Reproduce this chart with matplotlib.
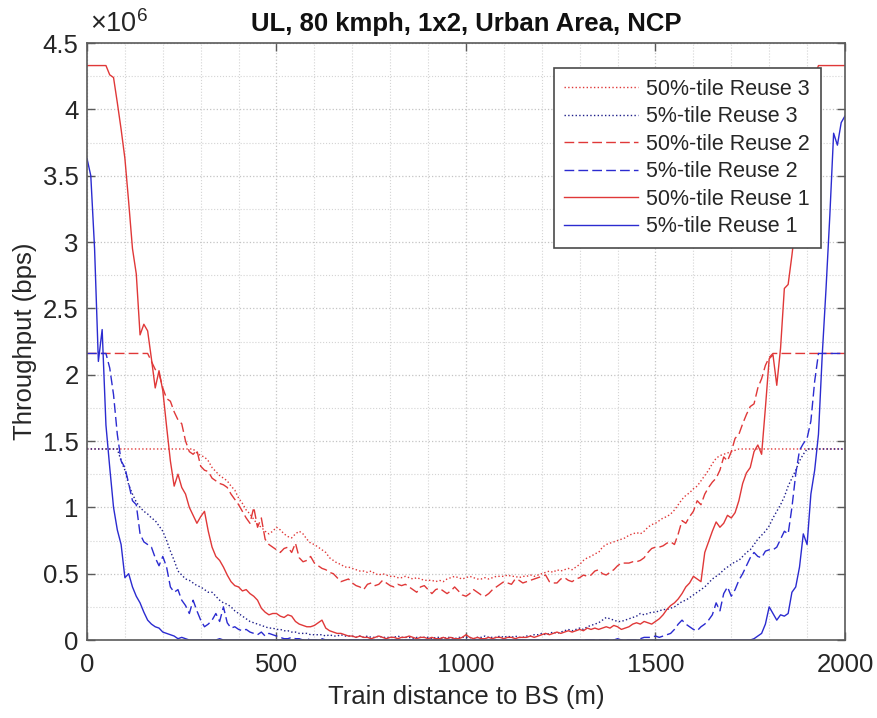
import numpy as np
import matplotlib
matplotlib.use("Agg")
import matplotlib.pyplot as plt
from matplotlib.ticker import MultipleLocator, FuncFormatter

plt.rcParams['font.family'] = ['Liberation Sans', 'DejaVu Sans']
plt.rcParams['mathtext.fontset'] = 'custom'
plt.rcParams['mathtext.rm'] = 'Liberation Sans'
plt.rcParams['mathtext.it'] = 'Liberation Sans:italic'

# Train distance to BS (m), 10 m sampling
distance = np.arange(0, 2001, 10)

# Throughput values in units of 10^6 bps
p50_reuse3 = [
    1.44, 1.44, 1.44, 1.44, 1.44, 1.44, 1.44, 1.44, 1.44, 1.44,
    1.44, 1.44, 1.44, 1.44, 1.44, 1.44, 1.44, 1.44, 1.44, 1.44,
    1.44, 1.44, 1.44, 1.44, 1.44, 1.44, 1.44, 1.44, 1.44, 1.41,
    1.39, 1.38, 1.35, 1.30, 1.27, 1.24, 1.22, 1.20, 1.16, 1.13,
    1.07, 1.03, 0.98, 0.95, 0.91, 0.87, 0.85, 0.82, 0.80, 0.82,
    0.85, 0.83, 0.80, 0.78, 0.77, 0.80, 0.82, 0.80, 0.76, 0.73,
    0.72, 0.70, 0.68, 0.66, 0.62, 0.60, 0.58, 0.57, 0.55, 0.55,
    0.54, 0.53, 0.52, 0.52, 0.51, 0.52, 0.50, 0.49, 0.50, 0.49,
    0.48, 0.48, 0.47, 0.47, 0.48, 0.47, 0.46, 0.47, 0.46, 0.45,
    0.45, 0.45, 0.44, 0.45, 0.44, 0.46, 0.47, 0.48, 0.47, 0.46,
    0.47, 0.48, 0.47, 0.46, 0.46, 0.47, 0.46, 0.47, 0.48, 0.48,
    0.48, 0.49, 0.48, 0.48, 0.47, 0.48, 0.48, 0.49, 0.48, 0.49,
    0.50, 0.51, 0.52, 0.51, 0.53, 0.52, 0.53, 0.54, 0.53, 0.55,
    0.57, 0.60, 0.62, 0.63, 0.65, 0.66, 0.70, 0.72, 0.73, 0.74,
    0.75, 0.76, 0.77, 0.79, 0.80, 0.81, 0.80, 0.82, 0.85, 0.87,
    0.88, 0.90, 0.92, 0.93, 0.95, 0.98, 1.02, 1.06, 1.09, 1.11,
    1.14, 1.16, 1.20, 1.24, 1.28, 1.33, 1.37, 1.39, 1.40, 1.41,
    1.42, 1.43, 1.44, 1.44, 1.44, 1.44, 1.44, 1.44, 1.44, 1.44,
    1.44, 1.44, 1.44, 1.44, 1.44, 1.44, 1.44, 1.44, 1.44, 1.44,
    1.44, 1.44, 1.44, 1.44, 1.44, 1.44, 1.44, 1.44, 1.44, 1.44,
    1.44,
]

p5_reuse3 = [
    1.44, 1.44, 1.44, 1.44, 1.44, 1.44, 1.44, 1.44, 1.44, 1.35,
    1.28, 1.17, 1.10, 1.04, 1.00, 0.97, 0.95, 0.92, 0.90, 0.86,
    0.82, 0.75, 0.67, 0.60, 0.52, 0.49, 0.46, 0.45, 0.43, 0.41,
    0.40, 0.38, 0.36, 0.36, 0.33, 0.30, 0.28, 0.27, 0.25, 0.22,
    0.20, 0.18, 0.16, 0.14, 0.13, 0.12, 0.11, 0.10, 0.09, 0.09,
    0.08, 0.08, 0.07, 0.07, 0.06, 0.06, 0.05, 0.05, 0.05, 0.04,
    0.04, 0.04, 0.04, 0.03, 0.04, 0.03, 0.03, 0.04, 0.03, 0.03,
    0.03, 0.02, 0.03, 0.02, 0.03, 0.02, 0.02, 0.03, 0.02, 0.02,
    0.02, 0.02, 0.03, 0.02, 0.02, 0.02, 0.01, 0.02, 0.02, 0.02,
    0.02, 0.01, 0.02, 0.02, 0.01, 0.02, 0.02, 0.01, 0.02, 0.02,
    0.02, 0.02, 0.01, 0.02, 0.02, 0.03, 0.02, 0.02, 0.02, 0.03,
    0.02, 0.03, 0.02, 0.03, 0.02, 0.02, 0.03, 0.03, 0.04, 0.04,
    0.05, 0.04, 0.05, 0.06, 0.05, 0.06, 0.07, 0.08, 0.07, 0.08,
    0.09, 0.08, 0.10, 0.11, 0.12, 0.13, 0.15, 0.17, 0.16, 0.15,
    0.14, 0.14, 0.15, 0.16, 0.17, 0.18, 0.20, 0.19, 0.20, 0.21,
    0.21, 0.22, 0.23, 0.23, 0.24, 0.25, 0.27, 0.29, 0.30, 0.32,
    0.34, 0.36, 0.38, 0.40, 0.43, 0.46, 0.48, 0.50, 0.53, 0.55,
    0.57, 0.59, 0.60, 0.63, 0.66, 0.68, 0.72, 0.76, 0.79, 0.82,
    0.86, 0.92, 0.97, 1.02, 1.08, 1.16, 1.22, 1.28, 1.35, 1.40,
    1.44, 1.44, 1.44, 1.44, 1.44, 1.44, 1.44, 1.44, 1.44, 1.44,
    1.44,
]

p50_reuse2 = [
    2.16, 2.16, 2.16, 2.16, 2.16, 2.16, 2.16, 2.16, 2.16, 2.16,
    2.16, 2.16, 2.16, 2.16, 2.16, 2.16, 2.16, 2.10, 2.04, 2.01,
    1.90, 1.82, 1.80, 1.72, 1.66, 1.63, 1.50, 1.42, 1.40, 1.43,
    1.31, 1.28, 1.27, 1.22, 1.20, 1.18, 1.17, 1.15, 1.10, 1.06,
    1.02, 0.97, 0.92, 0.88, 1.00, 0.85, 0.92, 0.76, 0.72, 0.70,
    0.68, 0.66, 0.69, 0.70, 0.66, 0.73, 0.62, 0.59, 0.60, 0.63,
    0.58, 0.56, 0.54, 0.53, 0.51, 0.50, 0.47, 0.44, 0.45, 0.46,
    0.43, 0.41, 0.40, 0.38, 0.42, 0.43, 0.41, 0.42, 0.45, 0.43,
    0.41, 0.40, 0.42, 0.41, 0.42, 0.40, 0.38, 0.36, 0.40, 0.41,
    0.38, 0.35, 0.38, 0.39, 0.37, 0.35, 0.37, 0.40, 0.37, 0.34,
    0.33, 0.35, 0.38, 0.36, 0.34, 0.33, 0.35, 0.38, 0.40, 0.42,
    0.44, 0.43, 0.42, 0.46, 0.45, 0.43, 0.44, 0.45, 0.46, 0.47,
    0.48, 0.49, 0.44, 0.43, 0.43, 0.46, 0.47, 0.45, 0.44, 0.46,
    0.47, 0.49, 0.48, 0.49, 0.52, 0.53, 0.50, 0.49, 0.51, 0.53,
    0.56, 0.58, 0.58, 0.58, 0.59, 0.59, 0.60, 0.62, 0.66, 0.69,
    0.70, 0.70, 0.71, 0.73, 0.74, 0.72, 0.80, 0.90, 0.88, 0.93,
    0.97, 1.05, 1.02, 1.10, 1.15, 1.19, 1.22, 1.28, 1.38, 1.35,
    1.42, 1.52, 1.55, 1.63, 1.70, 1.76, 1.78, 1.90, 1.97, 2.07,
    2.13, 2.16, 2.16, 2.16, 2.16, 2.16, 2.16, 2.16, 2.16, 2.16,
    2.16, 2.16, 2.16, 2.16, 2.16, 2.16, 2.16, 2.16, 2.16, 2.16,
    2.16,
]

p5_reuse2 = [
    2.16, 2.16, 2.16, 2.16, 2.16, 2.16, 2.05, 1.85, 1.55, 1.35,
    1.30, 1.18, 1.05, 1.02, 0.80, 0.74, 0.72, 0.70, 0.62, 0.56,
    0.63, 0.55, 0.40, 0.36, 0.38, 0.30, 0.26, 0.20, 0.30, 0.22,
    0.15, 0.10, 0.12, 0.15, 0.20, 0.14, 0.25, 0.13, 0.09, 0.10,
    0.08, 0.07, 0.08, 0.06, 0.05, 0.04, 0.06, 0.03, 0.05, 0.04,
    0.03, 0.02, 0.01, 0.01, 0.02, 0.01, 0.01, 0.00, 0.01, 0.00,
    0.00, 0.00, 0.01, 0.00, 0.00, 0.00, 0.00, 0.00, 0.00, 0.00,
    0.00, 0.00, 0.00, 0.00, 0.00, 0.00, 0.00, 0.00, 0.00, 0.00,
    0.00, 0.00, 0.00, 0.00, 0.00, 0.00, 0.00, 0.00, 0.00, 0.00,
    0.00, 0.00, 0.00, 0.00, 0.00, 0.00, 0.00, 0.00, 0.00, 0.00,
    0.00, 0.00, 0.00, 0.00, 0.00, 0.00, 0.00, 0.00, 0.00, 0.00,
    0.00, 0.00, 0.00, 0.00, 0.00, 0.00, 0.00, 0.00, 0.00, 0.00,
    0.00, 0.00, 0.00, 0.00, 0.00, 0.00, 0.00, 0.00, 0.00, 0.00,
    0.00, 0.00, 0.00, 0.00, 0.00, 0.00, 0.00, 0.00, 0.00, 0.00,
    0.00, 0.00, 0.00, 0.00, 0.00, 0.00, 0.01, 0.02, 0.02, 0.02,
    0.03, 0.02, 0.03, 0.04, 0.05, 0.08, 0.12, 0.15, 0.12, 0.10,
    0.08, 0.07, 0.10, 0.12, 0.15, 0.19, 0.28, 0.22, 0.35, 0.40,
    0.33, 0.38, 0.45, 0.50, 0.56, 0.62, 0.66, 0.63, 0.62, 0.67,
    0.68, 0.68, 0.70, 0.76, 0.82, 0.80, 1.00, 1.25, 1.43, 1.48,
    1.52, 1.65, 1.95, 2.16, 2.16, 2.16, 2.16, 2.16, 2.16, 2.16,
    2.16,
]

p50_reuse1 = [
    4.33, 4.33, 4.33, 4.33, 4.33, 4.33, 4.26, 4.24, 4.05, 3.85,
    3.63, 3.30, 2.95, 2.76, 2.30, 2.38, 2.33, 2.12, 1.90, 2.03,
    1.88, 1.61, 1.35, 1.16, 1.25, 1.15, 1.10, 1.00, 0.94, 0.88,
    0.93, 0.97, 0.82, 0.70, 0.63, 0.60, 0.55, 0.49, 0.44, 0.41,
    0.40, 0.37, 0.38, 0.35, 0.33, 0.30, 0.24, 0.21, 0.19, 0.20,
    0.20, 0.18, 0.17, 0.19, 0.18, 0.14, 0.12, 0.11, 0.10, 0.10,
    0.11, 0.13, 0.15, 0.09, 0.07, 0.06, 0.05, 0.05, 0.04, 0.03,
    0.03, 0.02, 0.03, 0.02, 0.02, 0.01, 0.02, 0.03, 0.02, 0.01,
    0.02, 0.02, 0.01, 0.02, 0.02, 0.03, 0.02, 0.01, 0.02, 0.02,
    0.01, 0.02, 0.01, 0.01, 0.02, 0.01, 0.02, 0.01, 0.01, 0.02,
    0.04, 0.02, 0.01, 0.02, 0.01, 0.01, 0.02, 0.01, 0.02, 0.02,
    0.01, 0.02, 0.02, 0.01, 0.02, 0.02, 0.02, 0.03, 0.02, 0.03,
    0.04, 0.05, 0.04, 0.05, 0.06, 0.05, 0.06, 0.07, 0.06, 0.07,
    0.08, 0.07, 0.09, 0.08, 0.09, 0.08, 0.09, 0.10, 0.09, 0.11,
    0.10, 0.08, 0.09, 0.10, 0.12, 0.13, 0.12, 0.14, 0.13, 0.12,
    0.14, 0.16, 0.19, 0.23, 0.26, 0.28, 0.31, 0.35, 0.40, 0.43,
    0.48, 0.46, 0.44, 0.66, 0.74, 0.82, 0.89, 0.85, 0.88, 0.94,
    0.92, 0.96, 1.05, 1.18, 1.26, 1.30, 1.42, 1.47, 1.40, 1.75,
    2.12, 2.15, 1.92, 2.20, 2.65, 2.68, 2.90, 3.15, 3.40, 3.65,
    3.90, 4.10, 4.25, 4.33, 4.33, 4.33, 4.33, 4.33, 4.33, 4.33,
    4.33,
]

p5_reuse1 = [
    3.63, 3.50, 2.95, 2.10, 2.34, 1.62, 1.30, 1.00, 0.83, 0.72,
    0.47, 0.50, 0.40, 0.33, 0.28, 0.21, 0.15, 0.12, 0.10, 0.09,
    0.06, 0.05, 0.04, 0.03, 0.01, 0.02, 0.01, 0.00, 0.00, 0.00,
    0.00, 0.00, 0.00, 0.00, 0.00, 0.01, 0.00, 0.00, 0.00, 0.00,
    0.00, 0.00, 0.00, 0.00, 0.00, 0.00, 0.00, 0.00, 0.00, 0.00,
    0.00, 0.00, 0.00, 0.00, 0.00, 0.00, 0.00, 0.00, 0.00, 0.00,
    0.00, 0.00, 0.00, 0.00, 0.00, 0.00, 0.00, 0.00, 0.00, 0.00,
    0.00, 0.00, 0.00, 0.00, 0.00, 0.00, 0.00, 0.00, 0.00, 0.00,
    0.00, 0.00, 0.00, 0.00, 0.00, 0.00, 0.00, 0.00, 0.00, 0.00,
    0.00, 0.00, 0.00, 0.00, 0.00, 0.00, 0.00, 0.00, 0.00, 0.00,
    0.00, 0.00, 0.00, 0.00, 0.00, 0.00, 0.00, 0.00, 0.00, 0.00,
    0.00, 0.00, 0.00, 0.00, 0.00, 0.00, 0.00, 0.00, 0.00, 0.00,
    0.00, 0.00, 0.00, 0.00, 0.00, 0.00, 0.00, 0.00, 0.00, 0.00,
    0.00, 0.00, 0.00, 0.00, 0.00, 0.00, 0.00, 0.00, 0.00, 0.00,
    0.01, 0.00, 0.00, 0.00, 0.00, 0.00, 0.00, 0.00, 0.00, 0.00,
    0.00, 0.00, 0.00, 0.00, 0.00, 0.00, 0.00, 0.00, 0.00, 0.00,
    0.00, 0.00, 0.00, 0.00, 0.00, 0.00, 0.00, 0.00, 0.00, 0.00,
    0.00, 0.00, 0.00, 0.00, 0.00, 0.00, 0.01, 0.03, 0.05, 0.12,
    0.25, 0.20, 0.15, 0.19, 0.18, 0.20, 0.36, 0.40, 0.55, 0.80,
    0.72, 1.10, 1.28, 1.55, 2.15, 2.65, 3.20, 3.82, 3.73, 3.90,
    3.95,
]

series_labels = ['50%-tile Reuse 3', '5%-tile Reuse 3', '50%-tile Reuse 2',
                 '5%-tile Reuse 2', '50%-tile Reuse 1', '5%-tile Reuse 1']
x_ticks = [0, 500, 1000, 1500, 2000]
y_ticks = [0, 0.5, 1, 1.5, 2, 2.5, 3, 3.5, 4, 4.5]

for s in (p50_reuse3, p5_reuse3, p50_reuse2, p5_reuse2, p50_reuse1, p5_reuse1):
    assert len(s) == len(distance), len(s)

RED = '#e03838'
BLUE = '#2b2bd0'
NAVY = '#1f1f8a'

fig = plt.figure(figsize=(8.77, 7.18), dpi=100)
ax = fig.add_axes([0.0992, 0.1086, 0.8643, 0.8315])

dash = (7, 3)
ax.plot(distance, p50_reuse3, linestyle=':', color=RED, lw=1.0, label=series_labels[0])
ax.plot(distance, p5_reuse3, linestyle=':', color=NAVY, lw=1.0, label=series_labels[1])
ax.plot(distance, p50_reuse2, linestyle=(0, dash), color=RED, lw=1.0, label=series_labels[2])
ax.plot(distance, p5_reuse2, linestyle=(0, dash), color=BLUE, lw=1.0, label=series_labels[3])
ax.plot(distance, p50_reuse1, linestyle='-', color=RED, lw=1.0, label=series_labels[4])
ax.plot(distance, p5_reuse1, linestyle='-', color=BLUE, lw=1.0, label=series_labels[5])

ax.set_xlim(0, 2000)
ax.set_ylim(0, 4.5)
ax.set_xticks(x_ticks)
ax.set_yticks(y_ticks)
ax.xaxis.set_minor_locator(MultipleLocator(100))
ax.yaxis.set_minor_locator(MultipleLocator(0.25))
ax.yaxis.set_major_formatter(FuncFormatter(lambda v, p: '%g' % v))
ax.xaxis.set_major_formatter(FuncFormatter(lambda v, p: '%g' % v))

ax.set_axisbelow(True)
ax.grid(True, which='major', linestyle=':', color='#c4c4c4', lw=0.9)
ax.grid(True, which='minor', linestyle=':', color='#d4d4d4', lw=0.8)

ax.tick_params(which='major', direction='in', length=5.5, width=1.0,
               top=True, right=True, labelsize=18.5, colors='#5a5a5a',
               labelcolor='#262626')
ax.tick_params(axis='x', which='major', pad=9)
ax.tick_params(axis='y', which='major', pad=6)
ax.tick_params(which='minor', length=0, top=True, right=True)
for sp in ax.spines.values():
    sp.set_color('#5a5a5a')
    sp.set_linewidth(1.2)

ax.set_xlabel('Train distance to BS (m)', fontsize=18.5, color='#262626', labelpad=6)
ax.set_ylabel('Throughput (bps)', fontsize=18.5, color='#262626', labelpad=4)
ax.set_title('UL, 80 kmph, 1x2, Urban Area, NCP', fontsize=18.5, fontweight='bold',
             color='#111111', pad=9)
ax.text(0.004, 1.018, r'$\times10^{6}$', transform=ax.transAxes, fontsize=19.5,
        color='#262626', ha='left', va='baseline')

leg = ax.legend(loc='upper right', bbox_to_anchor=(0.968, 0.958), borderaxespad=0,
                fontsize=15.5, fancybox=False, framealpha=1, edgecolor='#4a4a4a',
                handlelength=3.4, handletextpad=0.4, labelspacing=0.3,
                borderpad=0.5)
leg.get_frame().set_linewidth(1.2)
for t in leg.get_texts():
    t.set_color('#262626')

fig.savefig('out.png', dpi=100)
